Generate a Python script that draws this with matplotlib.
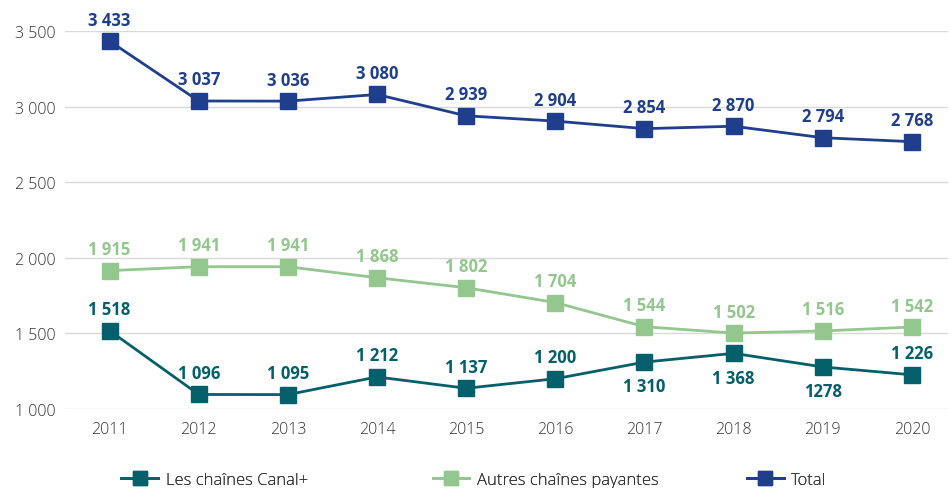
#!/usr/bin/env python3
"""Chaînes payantes : évolution 2011-2020."""

import matplotlib

matplotlib.use("Agg")
import matplotlib.pyplot as plt

years = ["2011", "2012", "2013", "2014", "2015", "2016", "2017", "2018", "2019", "2020"]
canal = [1518, 1096, 1095, 1212, 1137, 1200, 1310, 1368, 1278, 1226]
autres = [1915, 1941, 1941, 1868, 1802, 1704, 1544, 1502, 1516, 1542]
total = [3433, 3037, 3036, 3080, 2939, 2904, 2854, 2870, 2794, 2768]
# label text as printed (2019 Canal+ has no separator in the source)
canal_text = ["1 518", "1 096", "1 095", "1 212", "1 137", "1 200", "1 310", "1 368", "1278", "1 226"]
canal_below = [False, False, False, False, False, False, True, True, True, False]

COLORS = {
    "canal": "#03606a",
    "autres": "#93c78e",
    "total": "#1f3e8b",
}

plt.rcParams["font.family"] = ["Open Sans", "DejaVu Sans"]


def fmt(v):
    return f"{v:,}".replace(",", " ")


fig = plt.figure(figsize=(9.49, 4.89), dpi=100)
ax = fig.add_axes([0.0685, 0.1616, 0.93, 0.773])

x = list(range(len(years)))
series = [
    ("Les chaînes Canal+", canal, COLORS["canal"], canal_text, canal_below),
    ("Autres chaînes payantes", autres, COLORS["autres"], [fmt(v) for v in autres], [False] * 10),
    ("Total", total, COLORS["total"], [fmt(v) for v in total], [False] * 10),
]

lines = []
for name, vals, color, texts, below in series:
    (ln,) = ax.plot(x, vals, color=color, lw=2, marker="s", markersize=11.5, label=name, zorder=3)
    lines.append(ln)
    for xi, v, t, b in zip(x, vals, texts, below):
        ax.annotate(
            t,
            (xi, v),
            xytext=(0, -11 if b else 9),
            textcoords="offset points",
            ha="center",
            va="top" if b else "bottom",
            fontsize=12,
            fontweight="bold",
            color=color,
        )

ax.set_ylim(1000, 3500)
ax.set_xlim(-0.5, 9.4)
ax.set_yticks([1000, 1500, 2000, 2500, 3000, 3500])
ax.set_yticklabels([fmt(v) for v in [1000, 1500, 2000, 2500, 3000, 3500]])
ax.set_xticks(x)
ax.set_xticklabels(years)
ax.tick_params(axis="both", length=0, labelsize=11.5, labelcolor="#333333")
ax.tick_params(axis="y", pad=7)
ax.tick_params(axis="x", pad=9)
for t in ax.get_xticklabels() + ax.get_yticklabels():
    t.set_fontweight("light")
ax.grid(axis="y", color="#d9d9d9", lw=1)
ax.set_axisbelow(True)
for s in ax.spines.values():
    s.set_visible(False)

# legend entries spread along the bottom
for ln, xpos in zip(lines, [0.128, 0.456, 0.787]):
    leg = fig.legend(
        handles=[ln],
        loc="center left",
        bbox_to_anchor=(xpos, 0.017),
        frameon=False,
        fontsize=12,
        handlelength=2.2,
        handletextpad=0.45,
        borderpad=0,
        borderaxespad=0,
        markerscale=0.9,
    )
    for t in leg.get_texts():
        t.set_color("#333333")
        t.set_fontweight("light")
    fig.add_artist(leg)

fig.savefig("out.png", dpi=100)
plt.close(fig)
